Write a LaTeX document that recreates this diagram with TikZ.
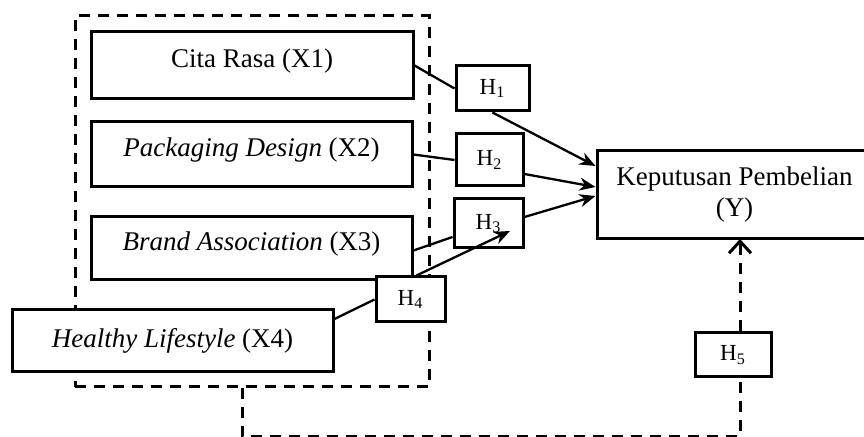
\documentclass[tikz,border=0pt]{standalone}
\usepackage{fontspec}
\setmainfont{Liberation Serif}
\usetikzlibrary{arrows.meta}

\begin{document}
\begin{tikzpicture}
            [x=0.5pt, y=-0.5pt, >={Stealth[length=8pt,width=6.5pt]}, line width=1.15pt,
             var/.style={shape=rectangle, draw=black, fill=white, line width=1.5pt, inner sep=0pt, font=\fontsize{13.5}{15.5}\selectfont},
             raised/.style={text height=8pt, text depth=6pt},
             hyp/.style={shape=rectangle, draw=black, fill=white, line width=1.5pt, inner sep=0pt, font=\fontsize{11.5}{13}\selectfont},
             grp/.style={draw=black, line width=1.5pt, dash pattern=on 5.5pt off 4pt}]
            \useasboundingbox (0,0) rectangle (864,437);
            \node[grp, minimum width=177pt, minimum height=185.5pt] (group) at (252,201.5) {};
            \node[var, raised, minimum width=161pt, minimum height=33.5pt] (x1) at (252,65.5) {Cita Rasa (X1)};
            \node[var, raised, minimum width=160.5pt, minimum height=32.5pt] (x2) at (251.5,154.5) {\textit{Packaging Design} (X2)};
            \node[var, raised, minimum width=160.5pt, minimum height=31.5pt] (x3) at (251.5,248.5) {\textit{Brand Association} (X3)};
            \node[var, minimum width=160.5pt, minimum height=31pt] (x4) at (172.5,341) {\textit{Healthy Lifestyle} (X4)};
            \node[var, align=center, minimum width=137.5pt, minimum height=44pt] (y) at (734.5,195) {Keputusan Pembelian\\(Y)};
            \node[hyp, minimum width=36.5pt, minimum height=22.5pt] (h1) at (492.5,88.5) {H\textsubscript{1}};
            \node[hyp, minimum width=33.5pt, minimum height=26pt] (h2) at (489.5,160) {H\textsubscript{2}};
            \node[hyp, minimum width=34.5pt, minimum height=24.5pt] (h3) at (488.5,223.5) {H\textsubscript{3}};
            \node[hyp, minimum width=34.5pt, minimum height=22.5pt] (h4) at (410.5,299.5) {H\textsubscript{4}};
            \node[hyp, minimum width=38pt, minimum height=22pt] (h5) at (733,355) {H\textsubscript{5}};
            \coordinate (h3tip) at (510,231);
            \coordinate (yin) at (740,239);

            \path (x1.east) edge (h1.west);
            \path [->] (h1.south) edge ([yshift=14.5pt]y.west);
            \path (x2.east) edge (h2.west);
            \path [->] ([yshift=-7pt]h2.east) edge ([yshift=4pt]y.west);
            \path ([yshift=-1pt]x3.east) edge ([yshift=-6.75pt]h3.west);
            \path [->] ([yshift=3.25pt]h3.east) edge ([yshift=-0.5pt]y.west);
            \path ([yshift=11pt]x4.east) edge (h4.west);
            \path [->] ([xshift=3pt]h4.north) edge (h3tip);
            \draw [grp] ([xshift=-5pt]group.south) -- ++(0,48) -| (h5.south -| yin);
            \draw [grp, -{Straight Barb[length=6pt,width=11pt]}] (h5.north -| yin) -- (yin);
        \end{tikzpicture}
\end{document}
